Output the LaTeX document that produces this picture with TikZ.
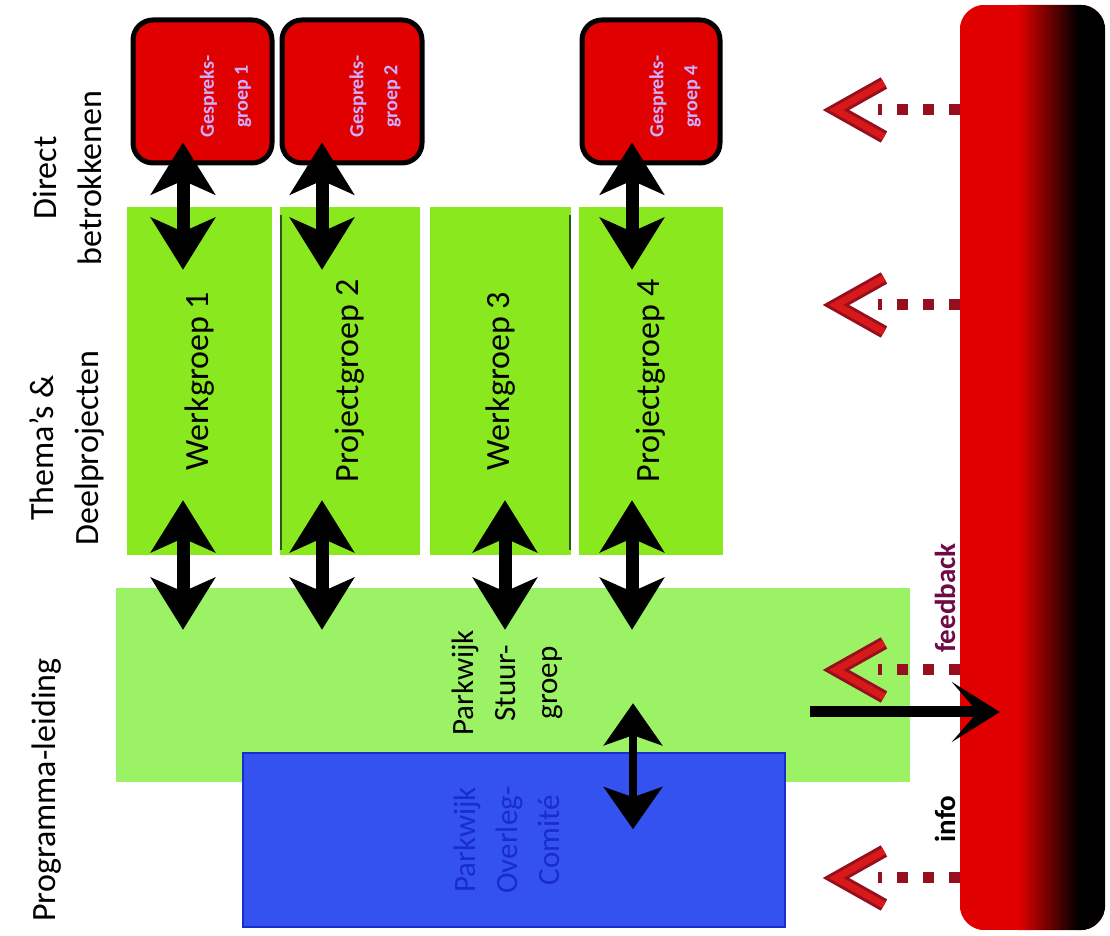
\documentclass[tikz,border=0pt]{standalone}
\usepackage{fontspec}
\setmainfont{Carlito}
\usetikzlibrary{arrows.meta,calc}
\definecolor{wgreen}{RGB}{138,232,30}
\definecolor{lgreen}{RGB}{155,242,100}
\definecolor{pblue}{RGB}{52,82,240}
\definecolor{tblue}{RGB}{25,45,205}
\definecolor{gred}{RGB}{225,0,0}
\definecolor{dred}{RGB}{150,15,30}
\definecolor{vred}{RGB}{215,25,25}
\definecolor{gtext}{RGB}{205,175,255}
\definecolor{fbtext}{RGB}{110,10,70}
\definecolor{dgreen}{RGB}{40,90,20}
\begin{document}
\begin{tikzpicture}[x=1pt,y=1pt,
  hdr/.style={rotate=90, align=center, font=\fontsize{34}{45}\selectfont, inner sep=0pt},
  wbox/.style={fill=wgreen, draw=none, minimum height=348pt, inner sep=0pt},
  wtext/.style={rotate=90, font=\fontsize{34}{40}\selectfont, inner sep=0pt},
  gbox/.style={fill=gred, draw=black, line width=5pt, rounded corners=20pt, minimum height=143pt, inner sep=0pt},
  gtxt/.style={rotate=90, align=center, text=gtext, font=\fontsize{20}{34}\bfseries\selectfont, inner sep=0pt},
  ptxt/.style={rotate=90, align=center, font=\fontsize{31}{42}\selectfont, inner sep=0pt},
  dbl/.style={line width=13pt, {Stealth[length=52pt,width=64pt,inset=14pt]}-{Stealth[length=52pt,width=64pt,inset=14pt]}},
  dblsmall/.style={line width=8pt, {Stealth[length=42pt,width=58pt,inset=10pt]}-{Stealth[length=42pt,width=58pt,inset=10pt]}},
  single/.style={line width=11pt, -{Stealth[length=48pt,width=60pt,inset=26pt]}},
  reddots/.style={draw=dred, line width=11pt, dash pattern=on 11pt off 15pt},
  vouter/.style={draw=dred, line width=13pt, line join=miter},
  vinner/.style={draw=vred, line width=7pt, line join=miter},
  lbl/.style={rotate=90, font=\fontsize{29}{34}\bfseries\selectfont, inner sep=0pt}
]
\useasboundingbox (0,0) rectangle (1110,936);

% column headers
\node[hdr] (h1) at (67,758) {Direct\\betrokkenen};
\node[hdr] (h2) at (67,488) {Thema’s \&\\Deelprojecten};
\node[hdr] (h3) at (47,146) {Programma-leiding};

% red bar
\node[minimum width=145pt, minimum height=925pt, inner sep=0pt] (rb) at (1032.5,468.5) {};
\begin{scope}
\clip[rounded corners=25pt] (rb.south west) rectangle (rb.north east);
\fill[gred] (rb.south west) rectangle (rb.north east);
\shade[left color=gred, right color=black] (1018,0) rectangle (1078,936);
\fill[black] (1078,0) rectangle (1110,936);
\end{scope}

% gespreksgroepen
\node[gbox, minimum width=139pt] (g1) at (202.5,844.5) {};
\node[gbox, minimum width=140pt] (g2) at (352,844.5) {};
\node[gbox, minimum width=138pt] (g4) at (651,844.5) {};
\node[gtxt] (g1t) at ($(g1)+(23,-5)$) {Gespreks-\\groep 1};
\node[gtxt] (g2t) at ($(g2)+(23,-5)$) {Gespreks-\\groep 2};
\node[gtxt] (g4t) at ($(g4)+(24,-5)$) {Gespreks-\\groep 4};

% werkgroepen
\node[wbox, minimum width=145pt] (w1) at (199.5,555) {};
\node[wbox, minimum width=140pt] (w2) at (350,555) {};
\node[wbox, minimum width=141pt] (w3) at (500.5,555) {};
\node[wbox, minimum width=144pt] (w4) at (651,555) {};
\draw[dgreen, line width=2pt] ($(w2.north west)+(1,-8)$) -- ($(w2.south west)+(1,5)$);
\draw[dgreen, line width=2pt] ($(w3.north east)+(-1,-8)$) -- ($(w3.south east)+(-1,5)$);
\node[wtext] (w1t) at (w1) {Werkgroep 1};
\node[wtext] (w2t) at (w2) {Projectgroep 2};
\node[wtext] (w3t) at (w3) {Werkgroep 3};
\node[wtext] (w4t) at (w4) {Projectgroep 4};

% stuurgroep and overleg-comite
\node[fill=lgreen, minimum width=794pt, minimum height=194pt, inner sep=0pt] (sg) at (513,251) {};
\node[fill=pblue, draw=tblue, line width=1.5pt, minimum width=542pt, minimum height=174pt, inner sep=0pt] (pc) at (514,96) {};
\node[ptxt] (sgt) at (507,253) {Parkwijk\\Stuur-\\groep};
\node[ptxt, text=tblue] (pct) at (507,96) {Parkwijk\\Overleg-\\Comité};

% double arrows gespreksgroep <-> werkgroep
\draw[dbl] ($(g1.south)+(-19.5,23)$) -- ($(w1.north)+(-16.5,-63)$);
\draw[dbl] ($(g2.south)+(-30,23)$) -- ($(w2.north)+(-28,-63)$);
\draw[dbl] ($(g4.south)+(-19,23)$) -- ($(w4.north)+(-19,-63)$);

% double arrows werkgroep <-> stuurgroep
\draw[dbl] ($(w1.south)+(-16.5,55)$) -- ($(sg.north)+(-330,-42)$);
\draw[dbl] ($(w2.south)+(-28,55)$) -- ($(sg.north)+(-191,-42)$);
\draw[dbl] ($(w3.south)+(4.5,55)$) -- ($(sg.north)+(-8,-42)$);
\draw[dbl] ($(w4.south)+(-19,55)$) -- ($(sg.north)+(119,-42)$);

% stuurgroep <-> overleg-comite
\draw[dblsmall] ($(sg.south)+(120,79)$) -- ($(pc.north)+(119,-77)$);

% info arrow to red bar
\draw[single] ($(sg.east)+(-100,-27)$) -- ($(rb.west)+(40,-244.5)$);

% red dotted feedback arrows
\coordinate (f1) at (836,826);
\coordinate (f2) at (836,631);
\coordinate (f3) at (836,266);
\coordinate (f4) at (836,58);
\foreach \f in {f1,f2,f3,f4}{
  \draw[reddots] (\f -| rb.west) -- ($(\f)+(42,0)$);
  \draw[vouter] ($(\f)+(48,27)$) -- (\f) -- ($(\f)+(48,-27)$);
  \draw[vinner] ($(\f)+(48,27)$) -- (\f) -- ($(\f)+(48,-27)$);
}

\node[lbl, text=fbtext] (fb) at (945,338) {feedback};
\node[lbl] (inf) at (945,117) {info};
\end{tikzpicture}
\end{document}
